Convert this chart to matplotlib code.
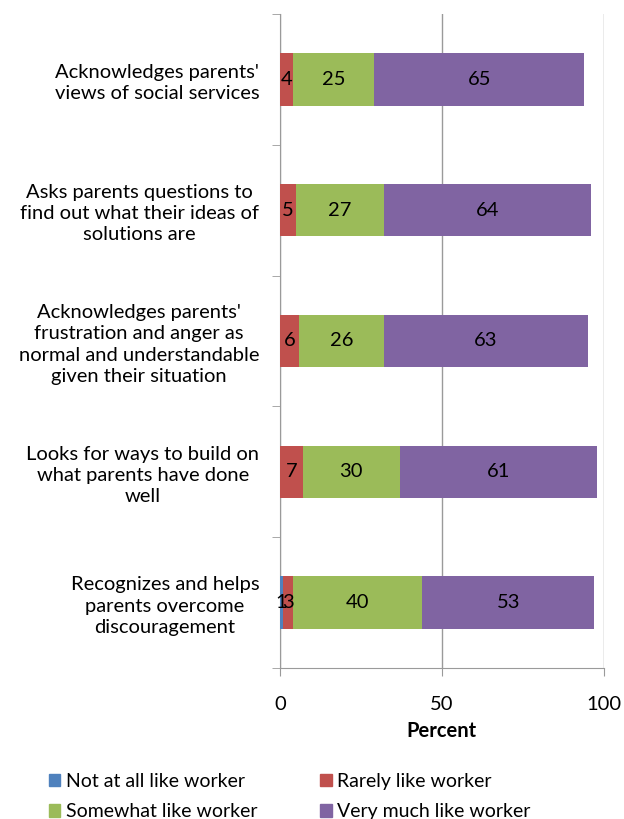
import numpy as np
import matplotlib
matplotlib.use("Agg")
import matplotlib.pyplot as plt
from matplotlib.patches import Patch

plt.rcParams.update({"font.family": ["Lato", "DejaVu Sans"], "font.size": 14.5})

categories = ["Acknowledges parents'\nviews of social services",
              "Asks parents questions to\nfind out what their ideas of\nsolutions are",
              "Acknowledges parents'\nfrustration and anger as\nnormal and understandable\ngiven their situation",
              "Looks for ways to build on\nwhat parents have done\nwell",
              "Recognizes and helps\nparents overcome\ndiscouragement"]
series = ["Not at all like worker", "Rarely like worker",
          "Somewhat like worker", "Very much like worker"]
not_at_all = [0, 0, 0, 0, 1]
rarely = [4, 5, 6, 7, 3]
somewhat = [25, 27, 26, 30, 40]
very_much = [65, 64, 63, 61, 53]
colors = ["#4F81BD", "#C0504D", "#9BBB59", "#8064A2"]

fig = plt.figure(figsize=(6.24, 8.19), dpi=100)
ax = fig.add_axes([0.4487, 0.1844, 0.519, 0.7985])

y = np.arange(len(categories))[::-1]
left = np.zeros(len(categories))
for name, vals, col in zip(series, [not_at_all, rarely, somewhat, very_much], colors):
    vals = np.array(vals, dtype=float)
    bars = ax.barh(y, vals, left=left, height=0.4, color=col, label=name, zorder=3)
    for b, v in zip(bars, vals):
        if v > 0:
            ax.text(b.get_x() + b.get_width() / 2, b.get_y() + b.get_height() / 2,
                    "%d" % v, ha="center", va="center", fontsize=14.5, color="black", zorder=4)
    left += vals

ax.set_xlim(0, 100)
ax.set_ylim(-0.5, len(categories) - 0.5)
ax.set_xticks([0, 50, 100])
ax.set_yticks(y)
ax.set_yticklabels(categories, multialignment="center", linespacing=1.3)
ax.set_yticks(np.arange(-0.5, len(categories), 1), minor=True)
ax.tick_params(axis="y", which="major", length=0, pad=15)
ax.tick_params(axis="y", which="minor", length=6, color="#9a9a9a")
ax.tick_params(axis="x", length=6, color="#9a9a9a", pad=14)
ax.grid(axis="x", color="#9a9a9a", lw=1, zorder=0)
for s in ["top", "right"]:
    ax.spines[s].set_visible(False)
for s in ["left", "bottom"]:
    ax.spines[s].set_color("#9a9a9a")
ax.set_xlabel("Percent", fontweight="bold", labelpad=6)

handles = [Patch(color=c) for c in colors]
order = [0, 2, 1, 3]
fig.legend([handles[i] for i in order], [series[i] for i in order],
           loc="lower left", bbox_to_anchor=(0.05, -0.023), ncol=2, frameon=False,
           fontsize=14, handlelength=0.6, handleheight=0.6, handletextpad=0.3,
           columnspacing=3.2, labelspacing=0.7)

fig.savefig("out.png", dpi=100)
